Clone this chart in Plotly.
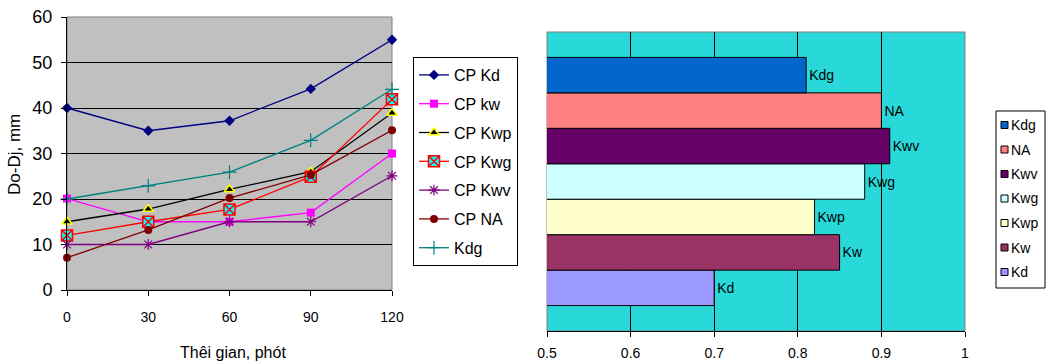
import plotly.graph_objects as go

W, H = 1049, 364
FONT = "Arial, Liberation Sans, sans-serif"

# ---- data: left line chart ----
times = [0, 30, 60, 90, 120]
cp_kd = [40, 35, 37.2, 44.2, 55]
cp_kw = [20.1, 15, 15, 17, 30]
cp_kwp = [15, 17.8, 22.1, 26, 38.9]
cp_kwg = [12, 15, 17.7, 24.9, 41.9]
cp_kwv = [10, 10, 15, 15, 25.1]
cp_na = [7.1, 13.2, 20.2, 25.3, 35.1]
kdg = [20, 22.9, 25.9, 32.9, 44.1]
y_ticks = [0, 10, 20, 30, 40, 50, 60]

# ---- data: right bar chart (bottom to top) ----
bar_names = ["Kd", "Kw", "Kwp", "Kwg", "Kwv", "NA", "Kdg"]
bar_values = [0.70, 0.85, 0.82, 0.88, 0.91, 0.90, 0.81]
x2_ticks = [0.5, 0.6, 0.7, 0.8, 0.9, 1.0]

def px_x(p):
    return p / W

def px_y(p):
    return 1 - p / H

fig = go.Figure()

line_specs = [
    ("CP Kd", cp_kd, "#000080", dict(symbol="diamond", size=8, color="#000080")),
    ("CP kw", cp_kw, "#FF00FF", dict(symbol="square", size=8, color="#FF00FF")),
    ("CP Kwp", cp_kwp, "#000000", dict(symbol="triangle-up", size=9, color="#000000",
                                       line=dict(color="#FFFF00", width=1.5))),
    ("CP Kwg", cp_kwg, "#FF0000", dict(symbol="square-x", size=11, color="#00FFFF",
                                       line=dict(color="#FF0000", width=1.5))),
    ("CP Kwv", cp_kwv, "#800080", dict(symbol="asterisk-open", size=9, color="#800080",
                                       line=dict(color="#800080", width=1.2))),
    ("CP NA", cp_na, "#800000", dict(symbol="circle", size=8, color="#800000")),
    ("Kdg", kdg, "#008080", dict(symbol="cross-thin-open", size=10, color="#008080",
                                 line=dict(color="#008080", width=1.2))),
]
for i, (name, ys, col, mk) in enumerate(line_specs):
    fig.add_trace(go.Scatter(
        x=times, y=ys, name=name, mode="lines+markers",
        line=dict(color=col, width=1.3), marker=mk,
        xaxis="x", yaxis="y", legend="legend", legendgroup=f"l{i}",
        cliponaxis=False,
    ))

bar_colors = ["#9999FF", "#993366", "#FFFFCC", "#CCFFFF", "#660066", "#FF8080", "#0066CC"]
for name, val, col in zip(bar_names, bar_values, bar_colors):
    fig.add_trace(go.Bar(
        y=[0], x=[val], name=name, orientation="h",
        marker=dict(color=col, line=dict(color="#000000", width=1)),
        text=[name], textposition="outside", cliponaxis=False,
        textfont=dict(family=FONT, size=14, color="#000000"),
        xaxis="x2", yaxis="y2", showlegend=False,
    ))

shapes = [
    dict(type="rect", xref="x domain", yref="y domain", x0=0, x1=1, y0=0, y1=1,
         fillcolor="#C0C0C0", line=dict(color="#808080", width=1), layer="below"),
    dict(type="rect", xref="x2 domain", yref="y2 domain", x0=0, x1=1, y0=0, y1=1,
         fillcolor="#29D9D9", line=dict(color="#808080", width=1), layer="below"),
    # right legend frame
    dict(type="rect", xref="paper", yref="paper",
         x0=px_x(996), x1=px_x(1045), y0=px_y(288), y1=px_y(111),
         fillcolor="white", line=dict(color="black", width=1), layer="above"),
]
annotations = [
    dict(text="Do-Dj, mm", x=px_x(14), y=px_y(155), xref="paper", yref="paper",
         textangle=-90, showarrow=False, font=dict(size=17),
         xanchor="center", yanchor="middle"),
    dict(text="Thêi gian, phót", x=px_x(233), y=px_y(352), xref="paper", yref="paper",
         showarrow=False, font=dict(size=16), xanchor="center", yanchor="middle"),
]
# right legend entries (top to bottom = reversed bar order)
for k, (name, col) in enumerate(zip(bar_names[::-1], bar_colors[::-1])):
    yc = 125 + k * 24.5
    shapes.append(dict(type="rect", xref="paper", yref="paper",
                       x0=px_x(1001), x1=px_x(1008), y0=px_y(yc + 3.5), y1=px_y(yc - 3.5),
                       fillcolor=col, line=dict(color="black", width=1), layer="above"))
    annotations.append(dict(text=name, x=px_x(1009), y=px_y(yc), xref="paper", yref="paper",
                            showarrow=False, font=dict(size=14),
                            xanchor="left", yanchor="middle"))

fig.update_layout(
    width=W, height=H,
    margin=dict(l=0, r=0, t=0, b=0, autoexpand=False),
    paper_bgcolor="white", plot_bgcolor="rgba(0,0,0,0)",
    font=dict(family=FONT, color="#000000"),
    barmode="group", bargap=0.17, bargroupgap=0,
    xaxis=dict(
        domain=[px_x(67), px_x(392)], range=[0, 120],
        tickmode="array", tickvals=times, ticktext=[str(t) for t in times],
        ticks="outside", ticklen=5, tickcolor="black", ticklabelstandoff=9,
        showgrid=False, zeroline=False, showline=True, linecolor="black",
        tickfont=dict(size=14), anchor="y", automargin=False,
    ),
    yaxis=dict(
        domain=[px_y(290), px_y(17)], range=[0, 60],
        tickmode="array", tickvals=y_ticks,
        ticks="outside", ticklen=5, tickcolor="black", ticklabelstandoff=5,
        showgrid=True, gridcolor="black", gridwidth=1,
        zeroline=False, showline=True, linecolor="black",
        tickfont=dict(size=18), anchor="x", automargin=False,
    ),
    xaxis2=dict(
        domain=[px_x(547), px_x(965)], range=[0.5, 1.0],
        tickmode="array", tickvals=x2_ticks, ticktext=["0.5", "0.6", "0.7", "0.8", "0.9", "1"],
        ticks="outside", ticklen=5, tickcolor="black", ticklabelstandoff=4,
        showgrid=True, gridcolor="#000000", gridwidth=1,
        zeroline=False, showline=True, linecolor="black",
        tickfont=dict(size=14), anchor="y2", automargin=False,
    ),
    yaxis2=dict(
        domain=[px_y(331), px_y(32)], range=[-0.5, 0.5],
        showticklabels=False, showgrid=False, zeroline=False, ticks="",
        showline=False, anchor="x2", automargin=False,
    ),
    legend=dict(
        x=px_x(413), y=px_y(57), xanchor="left", yanchor="top",
        bgcolor="white", bordercolor="black", borderwidth=1,
        font=dict(size=16), traceorder="grouped", tracegroupgap=5,
        itemwidth=30,
    ),
    shapes=shapes,
    annotations=annotations,
)

fig.write_html("out.html")
